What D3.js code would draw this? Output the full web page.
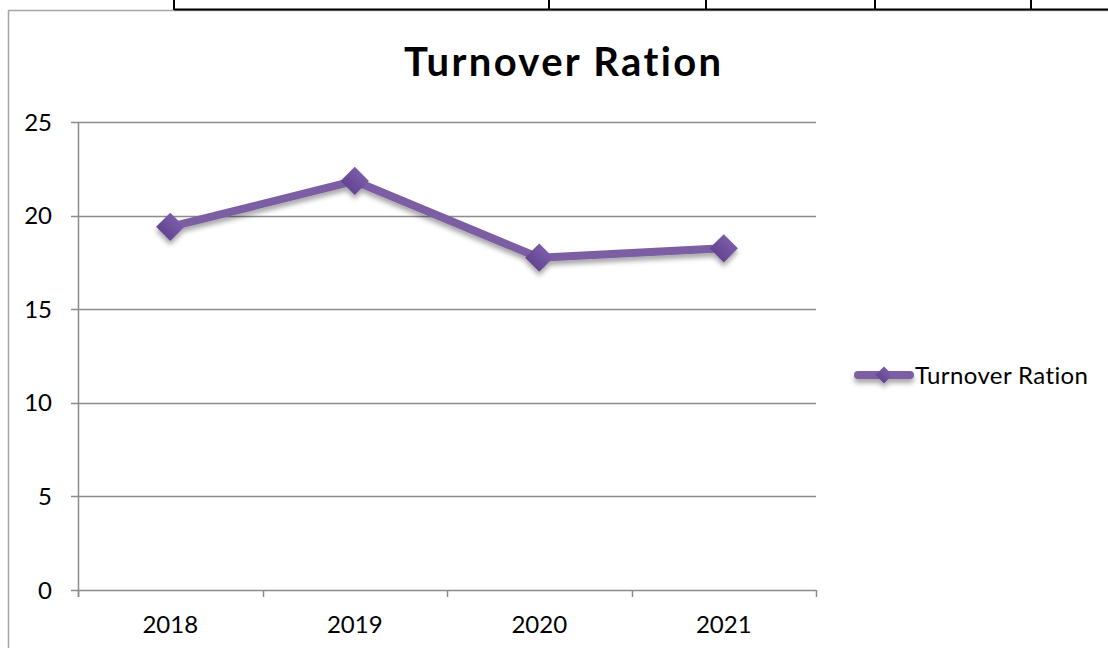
<!DOCTYPE html>
<html>
<head>
<meta charset="utf-8">
<script src="https://cdn.jsdelivr.net/npm/d3@7"></script>
<style>
  html, body { margin: 0; padding: 0; background: #fff; }
  svg { display: block; }
  text { font-family: Lato, "Open Sans", sans-serif; fill: #000;
         font-variant-ligatures: none; font-feature-settings: "liga" 0, "clig" 0; }
</style>
</head>
<body>
<svg id="chart" width="1108" height="648"></svg>
<script>
// Turnover ratio by year
const years = ["2018", "2019", "2020", "2021"];
const turnover = [19.4, 21.85, 17.75, 18.25];
const yTicks = [0, 5, 10, 15, 20, 25];
const seriesName = "Turnover Ration";
const chartTitle = "Turnover Ration";

// table cell borders above the chart
const cellEdges = [174, 549, 706, 875, 1031];

const svg = d3.select("#chart");
const W = 1108, H = 648;

const defs = svg.append("defs");
const shadow = defs.append("filter").attr("id", "soft-shadow")
  .attr("x", "-20%").attr("y", "-20%").attr("width", "140%").attr("height", "160%");
shadow.append("feDropShadow").attr("dx", 0).attr("dy", 4).attr("stdDeviation", 2.5)
  .attr("flood-color", "#000").attr("flood-opacity", 0.35);

const grad = defs.append("linearGradient").attr("id", "marker-fill")
  .attr("x1", 0).attr("y1", 0).attr("x2", 0).attr("y2", 1);
grad.append("stop").attr("offset", "0%").attr("stop-color", "#7a5ca8");
grad.append("stop").attr("offset", "100%").attr("stop-color", "#634592");

// chart frame
svg.append("rect").attr("x", 8.5).attr("y", 10.5).attr("width", 1200).attr("height", 700)
  .attr("fill", "none").attr("stroke", "#a6a6a6").attr("stroke-width", 1.5);

// table lines on top
svg.append("line").attr("x1", 174).attr("x2", W).attr("y1", 9.5).attr("y2", 9.5)
  .attr("stroke", "#000").attr("stroke-width", 2.2);
svg.selectAll(".cell-edge").data(cellEdges).join("line")
  .attr("x1", d => d).attr("x2", d => d).attr("y1", 0).attr("y2", 10)
  .attr("stroke", "#000").attr("stroke-width", 2);

// plot area
const plot = { left: 78, right: 816, top: 122, bottom: 590 };

const x = d3.scaleBand().domain(years).range([plot.left, plot.right]).paddingInner(0).paddingOuter(0);
const y = d3.scaleLinear().domain([0, 25]).range([plot.bottom, plot.top]);

const grid = svg.append("g");
grid.selectAll("line").data(yTicks).join("line")
  .attr("x1", plot.left - 7).attr("x2", plot.right)
  .attr("y1", d => Math.round(y(d)) + 0.5).attr("y2", d => Math.round(y(d)) + 0.5)
  .attr("stroke", "#8c8c8c").attr("stroke-width", 1.5);

// y axis line
svg.append("line").attr("x1", plot.left + 0.5).attr("x2", plot.left + 0.5)
  .attr("y1", plot.top).attr("y2", plot.bottom + 7)
  .attr("stroke", "#8c8c8c").attr("stroke-width", 1.5);

// x axis ticks at band edges
const xEdges = years.map(d => x(d)).concat([plot.right]);
svg.append("g").selectAll("line").data(xEdges).join("line")
  .attr("x1", d => Math.round(d) + 0.5).attr("x2", d => Math.round(d) + 0.5)
  .attr("y1", plot.bottom).attr("y2", plot.bottom + 7)
  .attr("stroke", "#8c8c8c").attr("stroke-width", 1.5);

// y labels
svg.append("g").selectAll("text").data(yTicks).join("text")
  .attr("x", 52).attr("y", d => y(d)).attr("dy", "0.36em")
  .attr("text-anchor", "end").attr("font-size", 24)
  .text(d => d);

// x labels
svg.append("g").selectAll("text").data(years).join("text")
  .attr("x", d => x(d) + x.bandwidth() / 2).attr("y", 633)
  .attr("text-anchor", "middle").attr("font-size", 24)
  .text(d => d);

// title
svg.append("text").attr("x", 404).attr("y", 76)
  .attr("font-size", 40).attr("font-weight", 700)
  .attr("textLength", 317).attr("lengthAdjust", "spacing")
  .text(chartTitle);

// series line + markers
const pts = years.map((d, i) => [x(d) + x.bandwidth() / 2, y(turnover[i])]);
const series = svg.append("g").attr("filter", "url(#soft-shadow)");
series.append("path").attr("d", d3.line()(pts))
  .attr("fill", "none").attr("stroke", "#7b5ea3").attr("stroke-width", 8)
  .attr("stroke-linejoin", "round").attr("stroke-linecap", "round");

series.selectAll(".marker").data(pts).join("rect")
  .attr("x", -10).attr("y", -10).attr("width", 20).attr("height", 20)
  .attr("transform", d => `translate(${d[0]},${d[1]}) rotate(45)`)
  .attr("fill", "url(#marker-fill)");

// legend
const lg = svg.append("g").attr("transform", "translate(0,375)");
const lgSym = lg.append("g").attr("filter", "url(#soft-shadow)");
lgSym.append("line").attr("x1", 858).attr("x2", 910).attr("y1", 0).attr("y2", 0)
  .attr("stroke", "#7b5ea3").attr("stroke-width", 8).attr("stroke-linecap", "round");
lgSym.append("rect").attr("x", -6).attr("y", -6).attr("width", 12).attr("height", 12)
  .attr("transform", "translate(884,0) rotate(45)").attr("fill", "url(#marker-fill)");
lg.append("text").attr("x", 915).attr("y", 0).attr("dy", "0.36em")
  .attr("font-size", 24).attr("textLength", 173).attr("lengthAdjust", "spacing")
  .text(seriesName);
</script>
</body>
</html>
